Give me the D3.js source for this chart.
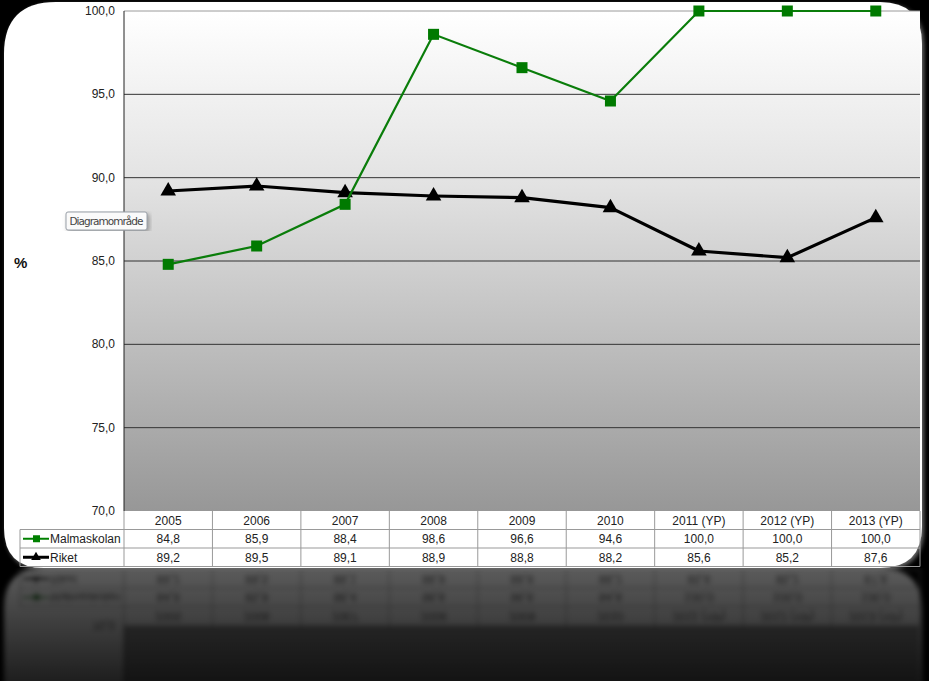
<!DOCTYPE html>
<html><head><meta charset="utf-8">
<script src="https://cdn.jsdelivr.net/npm/d3@7"></script>
<style>
html,body{margin:0;padding:0;background:#000;}
svg{display:block;font-family:"Liberation Sans",Arial,sans-serif;}
</style></head>
<body>
<svg id="c" width="929" height="681"></svg>
<script>
const categories = ["2005","2006","2007","2008","2009","2010","2011 (YP)","2012 (YP)","2013 (YP)"];
const malmaskolan = [84.8,85.9,88.4,98.6,96.6,94.6,100.0,100.0,100.0];
const riket = [89.2,89.5,89.1,88.9,88.8,88.2,85.6,85.2,87.6];
const yTicks = [70,75,80,85,90,95,100];
const seriesNames = ["Malmaskolan","Riket"];

const svg = d3.select("#c");
const defs = svg.append("defs");
const fmt = v => d3.format(".1f")(v).replace(".", ",");

const plotL = 124, plotR = 920, plotT = 11, plotB = 511;
const x = d3.scaleBand().domain(categories).range([plotL, plotR]);
const y = d3.scaleLinear().domain([70,100]).range([plotB, plotT]);
const rowH = 18.5;
const legL = 20;

const grad = defs.append("linearGradient").attr("id","pg").attr("x1",0).attr("y1",0).attr("x2",0).attr("y2",1);
grad.append("stop").attr("offset","0%").attr("stop-color","#ffffff");
grad.append("stop").attr("offset","35%").attr("stop-color","#e2e2e2");
grad.append("stop").attr("offset","100%").attr("stop-color","#979797");

defs.append("filter").attr("id","blur").append("feGaussianBlur").attr("stdDeviation",2.8);
const shadow = defs.append("filter").attr("id","sh").attr("x","-5%").attr("y","-5%").attr("width","110%").attr("height","110%");
shadow.append("feDropShadow").attr("dx",2).attr("dy",2).attr("stdDeviation",2).attr("flood-color","#888").attr("flood-opacity",0.8);

const rg = defs.append("linearGradient").attr("id","rg").attr("x1",0).attr("y1",0).attr("x2",0).attr("y2",1);
rg.append("stop").attr("offset","0%").attr("stop-color","#fff").attr("stop-opacity",0.36);
rg.append("stop").attr("offset","100%").attr("stop-color","#fff").attr("stop-opacity",0.12);
const mask = defs.append("mask").attr("id","rm");
mask.append("rect").attr("x",0).attr("y",568).attr("width",929).attr("height",113).attr("fill","url(#rg)");

function cardPath(){
  const l=4,t=2,r=922,b=568,rtl=52,rtr=42,rbl=40,rbr=42;
  return `M${l+rtl},${t} L${r-rtr},${t} Q${r},${t} ${r},${t+rtr} L${r},${b-rbr} Q${r},${b} ${r-rbr},${b} L${l+rbl},${b} Q${l},${b} ${l},${b-rbl} L${l},${t+rtl} Q${l},${t} ${l+rtl},${t} Z`;
}

function drawCard(g, full){
  g.append("path").attr("d",cardPath()).attr("fill","#fff").attr("filter", full ? "url(#sh)" : null);
  g.append("rect").attr("x",plotL).attr("y",plotT).attr("width",plotR-plotL).attr("height",plotB-plotT).attr("fill","url(#pg)");
  const labelTicks = full ? yTicks : [70];
  if (full) {
    g.selectAll(".grid").data(yTicks.filter(v=>v>70)).enter().append("line")
      .attr("x1",plotL).attr("x2",plotR).attr("y1",d=>y(d)).attr("y2",d=>y(d))
      .attr("stroke",d=>d===100?"#9a9a9a":"#333").attr("stroke-width",1);
  }
  g.append("line").attr("x1",plotL).attr("x2",plotL).attr("y1",plotT).attr("y2",plotB).attr("stroke","#222");
  g.selectAll(".yl").data(labelTicks).enter().append("text")
    .attr("x",plotL-9).attr("y",d=>y(d)+4).attr("text-anchor","end")
    .attr("font-size",12).attr("fill","#222").text(d=>fmt(d));
  const tT = plotB;
  const tbl = g.append("g");
  const vx = categories.map(c=>x(c)).concat([plotR]);
  tbl.selectAll(".tv").data(vx).enter().append("line")
    .attr("x1",d=>d).attr("x2",d=>d).attr("y1",tT).attr("y2",tT+3*rowH).attr("stroke","#999");
  [1,2,3].forEach(i=>{
    tbl.append("line").attr("x1",legL).attr("x2",plotR).attr("y1",tT+i*rowH).attr("y2",tT+i*rowH).attr("stroke","#999");
  });
  tbl.append("line").attr("x1",legL).attr("x2",legL).attr("y1",tT+rowH).attr("y2",tT+3*rowH).attr("stroke","#999");
  tbl.selectAll(".hd").data(categories).enter().append("text")
    .attr("x",d=>x(d)+x.bandwidth()/2).attr("y",tT+rowH-5).attr("text-anchor","middle")
    .attr("font-size",12).attr("fill","#222").text(d=>d);
  [malmaskolan,riket].forEach((arr,ri)=>{
    tbl.selectAll(".v"+ri).data(arr).enter().append("text")
      .attr("x",(d,i)=>x(categories[i])+x.bandwidth()/2).attr("y",tT+(ri+2)*rowH-5).attr("text-anchor","middle")
      .attr("font-size",12).attr("fill","#222").text(d=>fmt(d));
    tbl.append("text").attr("x",legL+30).attr("y",tT+(ri+2)*rowH-5).attr("font-size",12).attr("fill","#222").text(seriesNames[ri]);
  });
  const k1 = tT+1.5*rowH, k2 = tT+2.5*rowH;
  tbl.append("line").attr("x1",legL+3).attr("x2",legL+29).attr("y1",k1).attr("y2",k1).attr("stroke","#008000").attr("stroke-width",2);
  tbl.append("rect").attr("x",legL+13).attr("y",k1-3.5).attr("width",7).attr("height",7).attr("fill","#008000");
  tbl.append("line").attr("x1",legL+3).attr("x2",legL+29).attr("y1",k2).attr("y2",k2).attr("stroke","#000").attr("stroke-width",3);
  tbl.append("path").attr("d",d3.symbol(d3.symbolTriangle,40)()).attr("transform",`translate(${legL+16},${k2})`).attr("fill","#000");

  if (!full) return;
  const cx = i => x(categories[i]) + x.bandwidth()/2;
  const line = d3.line().x((d,i)=>cx(i)).y(d=>y(d));
  g.append("path").datum(riket).attr("d",line).attr("fill","none").attr("stroke","#000").attr("stroke-width",3.2).attr("stroke-linejoin","round");
  g.selectAll(".tri").data(riket).enter().append("path")
    .attr("d",d3.symbol(d3.symbolTriangle,105)())
    .attr("transform",(d,i)=>`translate(${cx(i)},${y(d)})`).attr("fill","#000");
  g.append("path").datum(malmaskolan).attr("d",line).attr("fill","none").attr("stroke","#0a7d0a").attr("stroke-width",2.2);
  g.selectAll(".sq").data(malmaskolan).enter().append("rect")
    .attr("x",(d,i)=>cx(i)-5.5).attr("y",d=>y(d)-5.5).attr("width",11).attr("height",11).attr("fill","#007a00");
}

// reflection
const refl = svg.append("g").attr("mask","url(#rm)");
const inner = refl.append("g").attr("transform","translate(0,1136) scale(1,-1)").attr("filter","url(#blur)");
drawCard(inner,false);

// main card
const main = svg.append("g");
drawCard(main,true);

main.append("text").attr("x",14).attr("y",268).attr("font-size",15).attr("font-weight","bold").attr("fill","#111").text("%");

const tip = main.append("g").attr("transform","translate(66,212)");
tip.append("rect").attr("width",81).attr("height",18).attr("rx",2).attr("fill","#fafafa").attr("stroke","#9aa0a8").attr("filter","url(#sh)");
tip.append("text").attr("x",40.5).attr("y",13).attr("text-anchor","middle").attr("font-size",10.5).attr("fill","#444").attr("font-family","'DejaVu Sans',sans-serif").attr("textLength",74).text("Diagramområde");
</script>
</body></html>
